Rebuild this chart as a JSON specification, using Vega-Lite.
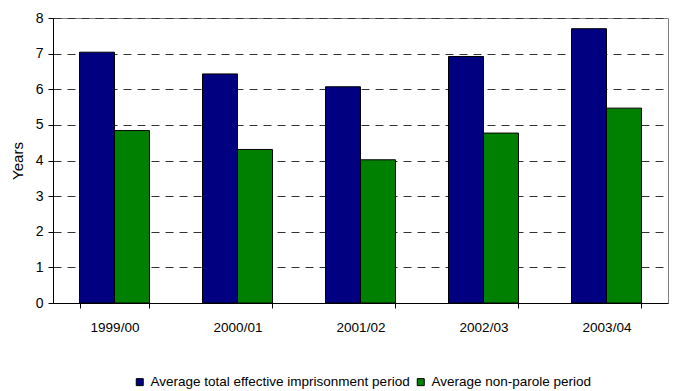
{
  "$schema": "https://vega.github.io/schema/vega-lite/v6.json",
  "width": 615,
  "height": 285,
  "autosize": "none",
  "padding": {"left": 53, "top": 18, "right": 6, "bottom": 88},
  "background": "white",
  "config": {
    "font": "Liberation Sans",
    "view": {"stroke": "#808080", "strokeWidth": 1},
    "axis": {
      "labelFont": "Liberation Sans",
      "titleFont": "Liberation Sans",
      "labelColor": "black",
      "titleColor": "black",
      "domainColor": "black",
      "tickColor": "black",
      "labelFontSize": 13.5,
      "titleFontSize": 15,
      "titleFontWeight": "normal"
    },
    "legend": {
      "labelFont": "Liberation Sans",
      "labelFontSize": 13.5,
      "labelColor": "black",
      "labelLimit": 0
    }
  },
  "data": {
    "values": [
      {"year": "1999/00", "measure": "Average total effective imprisonment period", "value": 7.04},
      {"year": "1999/00", "measure": "Average non-parole period", "value": 4.84},
      {"year": "2000/01", "measure": "Average total effective imprisonment period", "value": 6.43},
      {"year": "2000/01", "measure": "Average non-parole period", "value": 4.31},
      {"year": "2001/02", "measure": "Average total effective imprisonment period", "value": 6.07},
      {"year": "2001/02", "measure": "Average non-parole period", "value": 4.02},
      {"year": "2002/03", "measure": "Average total effective imprisonment period", "value": 6.92},
      {"year": "2002/03", "measure": "Average non-parole period", "value": 4.77},
      {"year": "2003/04", "measure": "Average total effective imprisonment period", "value": 7.7},
      {"year": "2003/04", "measure": "Average non-parole period", "value": 5.47}
    ]
  },
  "mark": {"type": "bar", "stroke": "black", "strokeWidth": 1},
  "encoding": {
    "x": {
      "field": "year",
      "type": "nominal",
      "sort": null,
      "scale": {"paddingInner": 0.431, "paddingOuter": 0.2155},
      "axis": {
        "title": null,
        "labelAngle": 0,
        "labelPadding": 12,
        "tickBand": "extent",
        "tickSize": 5,
        "domainWidth": 1
      }
    },
    "xOffset": {
      "field": "measure",
      "type": "nominal",
      "sort": ["Average total effective imprisonment period", "Average non-parole period"]
    },
    "y": {
      "field": "value",
      "type": "quantitative",
      "scale": {"domain": [0, 8], "nice": false},
      "axis": {
        "title": "Years",
        "values": [0, 1, 2, 3, 4, 5, 6, 7, 8],
        "grid": true,
        "gridColor": "#333333",
        "gridDash": [8, 6],
        "gridWidth": 1,
        "tickSize": 5,
        "labelPadding": 5,
        "labelFontSize": 14,
        "titlePadding": 10
      }
    },
    "color": {
      "field": "measure",
      "type": "nominal",
      "sort": ["Average total effective imprisonment period", "Average non-parole period"],
      "scale": {"range": ["#000080", "#008000"]},
      "legend": {
        "title": null,
        "orient": "none",
        "direction": "horizontal",
        "legendX": 80,
        "legendY": 357,
        "symbolType": "square",
        "symbolSize": 49,
        "symbolStrokeColor": "black",
        "symbolStrokeWidth": 1,
        "symbolOpacity": 1,
        "labelOffset": 4,
        "columnPadding": 4
      }
    }
  }
}
